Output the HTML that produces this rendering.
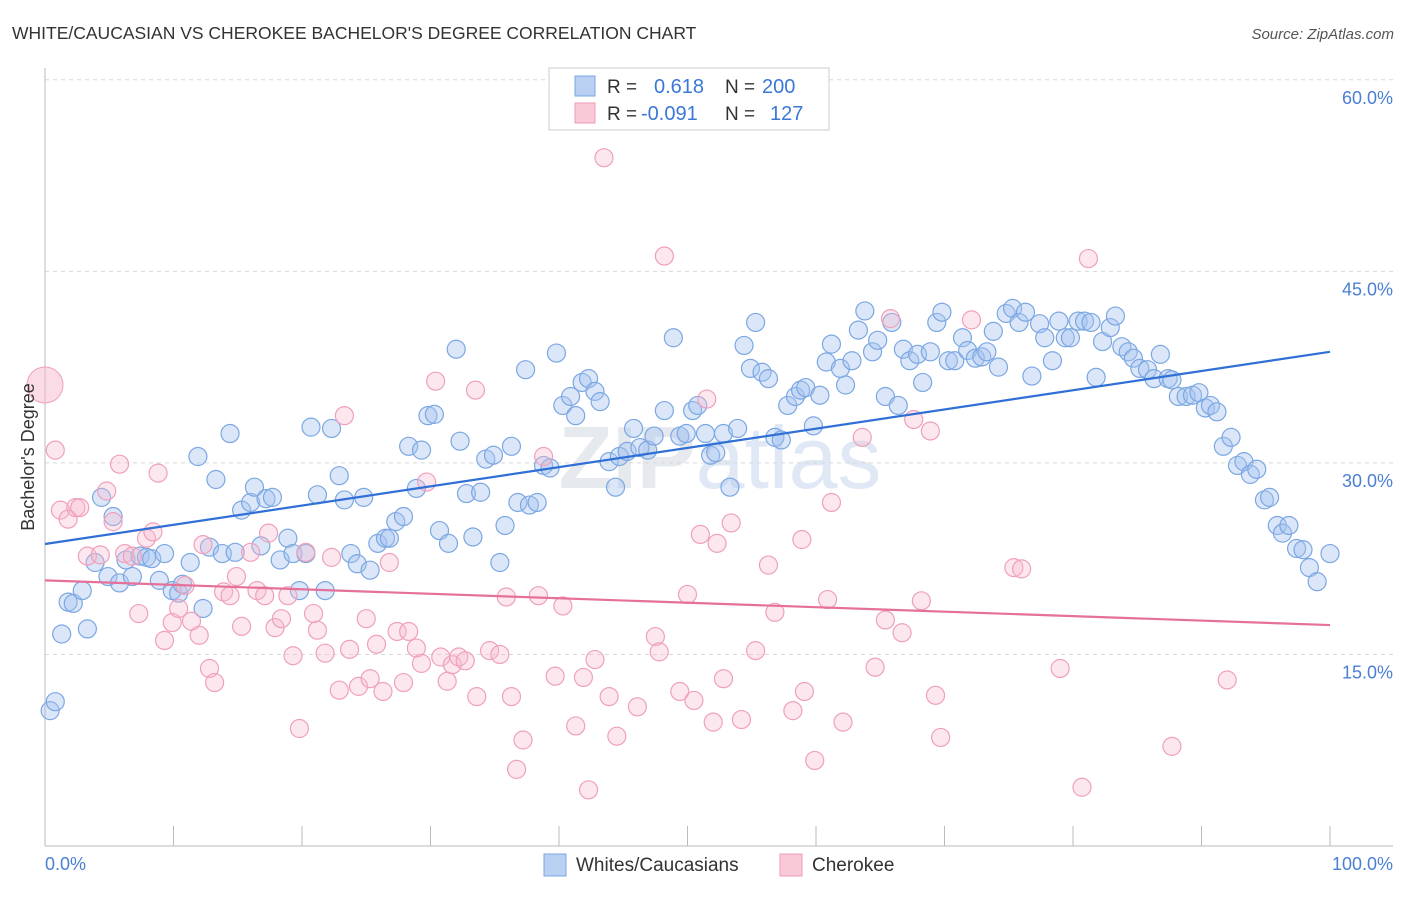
<!DOCTYPE html>
<html><head><meta charset="utf-8">
<style>
body{margin:0;background:#fff;font-family:"Liberation Sans",sans-serif;}
svg text{font-family:"Liberation Sans",sans-serif;}
</style></head>
<body>
<svg id="chart" width="1406" height="892" xmlns="http://www.w3.org/2000/svg">
<text x="12" y="39" font-size="17.5" fill="#333">WHITE/CAUCASIAN VS CHEROKEE BACHELOR'S DEGREE CORRELATION CHART</text>
<text x="1394" y="39" font-size="15" fill="#555" font-style="italic" text-anchor="end">Source: ZipAtlas.com</text>
<text x="720" y="488" font-size="88" fill="#e6e9ee" text-anchor="middle" font-weight="bold">ZIP<tspan font-weight="normal" fill="#dfe8f4">atlas</tspan></text>
<g id="grid"></g>
<g id="axes"></g>
<g id="marks"></g>
<text transform="translate(34,457) rotate(-90)" font-size="18" fill="#333" text-anchor="middle">Bachelor's Degree</text>
<text x="45" y="870" font-size="18" fill="#4a7fd4">0.0%</text>
<text x="1393" y="870" font-size="18" fill="#4a7fd4" text-anchor="end">100.0%</text>
<g>
<rect x="549" y="68" width="280" height="62" fill="#fff" stroke="#ccc"/>
<rect x="575" y="76" width="20" height="20" fill="#b9d0f3" stroke="#7aa6e0"/>
<rect x="575" y="103" width="20" height="20" fill="#f9c9d8" stroke="#ee9cb8"/>
<text x="607" y="93" font-size="19" fill="#333">R = </text><text x="654" y="93" font-size="20" fill="#3b78d6">0.618</text>
<text x="725" y="93" font-size="19" fill="#333">N = </text><text x="762" y="93" font-size="20" fill="#3b78d6">200</text>
<text x="607" y="120" font-size="19" fill="#333">R = </text><text x="641" y="120" font-size="20" fill="#3b78d6">-0.091</text>
<text x="725" y="120" font-size="19" fill="#333">N = </text><text x="770" y="120" font-size="20" fill="#3b78d6">127</text>
</g>
<g>
<rect x="544" y="854" width="22" height="22" fill="#b9d0f3" stroke="#7aa6e0"/>
<text x="576" y="871" font-size="19" fill="#333">Whites/Caucasians</text>
<rect x="780" y="854" width="22" height="22" fill="#f9c9d8" stroke="#ee9cb8"/>
<text x="812" y="871" font-size="19" fill="#333">Cherokee</text>
</g>
</svg>
<script>
const yTicks=[15,30,45,60];
const yTickLabels=["15.0%","30.0%","45.0%","60.0%"];
const xTicks=[0,10,20,30,40,50,60,70,80,90,100];
const blueX=[0.4,0.8,1.3,3.3,1.8,2.2,2.9,3.9,4.4,5.3,4.9,5.8,6.8,6.3,7.4,7.9,8.3,9.3,8.9,9.9,10.4,10.7,11.3,11.9,12.3,12.8,13.3,13.8,14.4,14.8,15.3,16.0,16.3,16.8,17.2,17.7,18.3,18.9,19.3,19.8,20.3,20.7,21.2,21.8,22.3,22.9,23.3,23.8,24.3,24.8,25.3,25.9,26.5,26.8,27.3,27.9,28.3,28.9,29.3,29.8,30.3,30.7,31.4,32.0,32.3,32.8,33.3,33.9,34.3,34.9,35.4,35.8,36.3,36.8,37.4,37.7,38.3,38.8,39.3,39.8,40.3,40.9,41.3,41.8,42.3,42.8,43.2,43.9,44.4,44.7,45.3,45.8,46.3,46.9,47.4,48.2,48.9,49.4,49.9,50.4,50.8,51.4,51.8,52.2,52.8,53.3,53.9,54.4,54.9,55.3,55.8,56.3,56.8,57.3,57.8,58.4,58.8,59.2,59.8,60.3,60.8,61.2,61.9,62.3,62.8,63.3,63.8,64.4,64.8,65.4,65.9,66.4,66.8,67.3,67.9,68.3,68.9,69.4,69.8,70.3,70.8,71.4,71.8,72.4,72.9,73.3,73.8,74.2,74.8,75.3,75.8,76.3,76.8,77.4,77.8,78.4,78.9,79.4,79.8,80.4,80.9,81.4,81.8,82.3,82.9,83.3,83.8,84.3,84.7,85.2,85.8,86.3,86.8,87.4,87.7,88.2,88.8,89.3,89.8,90.3,90.7,91.2,91.7,92.3,92.8,93.3,93.8,94.3,94.9,95.3,95.9,96.3,96.8,97.4,97.9,98.4,99.0,100];
const blueY=[10.6,11.3,16.6,17.0,19.1,19.0,20.0,22.2,27.3,25.8,21.1,20.6,21.1,22.4,22.7,22.6,22.5,22.9,20.8,20.0,19.8,20.5,22.2,30.5,18.6,23.4,28.7,22.9,32.3,23.0,26.3,26.9,28.1,23.5,27.2,27.3,22.4,24.1,22.9,20.0,22.9,32.8,27.5,20.0,32.7,29.0,27.1,22.9,22.1,27.3,21.6,23.7,24.1,24.1,25.4,25.8,31.3,28.0,31.0,33.7,33.8,24.7,23.7,38.9,31.7,27.6,24.2,27.7,30.3,30.6,22.2,25.1,31.3,26.9,37.3,26.7,26.9,29.8,29.6,38.6,34.5,35.2,33.7,36.3,36.6,35.6,34.8,30.1,28.1,30.5,30.9,32.7,31.2,31.0,32.1,34.1,39.8,32.1,32.3,34.1,34.5,32.3,30.6,30.8,32.3,28.1,32.7,39.2,37.4,41.0,37.1,36.6,32.0,31.8,34.5,35.2,35.7,35.9,32.9,35.3,37.9,39.3,37.4,36.1,38.0,40.4,41.9,38.7,39.6,35.2,41.0,34.5,38.9,38.0,38.5,36.3,38.7,41.0,41.8,38.0,38.0,39.8,38.8,38.2,38.3,38.7,40.3,37.5,41.7,42.1,41.0,41.8,36.8,40.9,39.8,38.0,41.1,39.8,39.8,41.1,41.1,41.0,36.7,39.5,40.6,41.5,39.1,38.7,38.2,37.4,37.3,36.6,38.5,36.6,36.5,35.2,35.2,35.3,35.5,34.3,34.5,34.0,31.3,32.0,29.8,30.1,29.1,29.5,27.1,27.3,25.1,24.5,25.1,23.3,23.2,21.8,20.7,22.9];
const pinkX=[0.8,1.2,1.8,2.4,2.7,3.3,4.3,4.8,5.3,5.8,6.2,6.8,7.3,7.9,8.4,8.8,9.3,9.9,10.4,10.9,11.4,12.0,12.3,12.8,13.2,13.9,14.4,14.9,15.3,16.0,16.5,17.1,17.4,17.9,18.4,18.9,19.3,19.8,20.3,20.9,21.2,21.8,22.3,22.9,23.3,23.7,24.4,25.0,25.3,25.8,26.3,26.8,27.4,27.9,28.3,28.9,29.3,29.7,30.4,30.8,31.3,31.7,32.2,32.7,33.5,33.6,34.6,35.4,35.9,36.3,36.7,37.2,38.4,38.8,39.7,40.3,41.3,41.9,42.3,42.8,43.5,43.9,44.5,46.1,47.5,47.8,48.2,49.4,50.0,50.5,51.0,51.5,52.0,52.3,52.8,53.4,54.2,55.3,56.3,56.8,58.2,58.9,59.1,59.9,60.9,61.2,62.1,63.6,64.6,65.4,65.8,66.7,67.6,68.2,68.9,69.3,69.7,72.1,75.4,76.0,79.0,80.7,81.2,87.7,92.0];
const pinkY=[31.0,26.3,25.6,26.5,26.5,22.7,22.8,27.8,25.4,29.9,22.9,22.7,18.2,24.1,24.6,29.2,16.1,17.5,18.6,20.4,17.6,16.5,23.6,13.9,12.8,19.9,19.6,21.1,17.2,23.0,20.0,19.6,24.5,17.1,17.8,19.6,14.9,9.2,23.0,18.2,16.9,15.1,22.6,12.2,33.7,15.4,12.5,17.8,13.1,15.8,12.1,22.2,16.8,12.8,16.8,15.5,14.3,28.5,36.4,14.8,12.9,14.2,14.8,14.5,35.7,11.7,15.3,15.0,19.5,11.7,6.0,8.3,19.6,30.5,13.3,18.8,9.4,13.2,4.4,14.6,53.9,11.7,8.6,10.9,16.4,15.2,46.2,12.1,19.7,11.4,24.4,35.0,9.7,23.7,13.1,25.3,9.9,15.3,22.0,18.3,10.6,24.0,12.1,6.7,19.3,26.9,9.7,32.0,14.0,17.7,41.3,16.7,33.4,19.2,32.5,11.8,8.5,41.2,21.8,21.7,13.9,4.6,46.0,7.8,13.0];
const bigPink=[0,36.1];
const blueTrend=[23.65,38.7];
const pinkTrend=[20.8,17.3];

const X0=45,X1=1330,Y0=846,YS=12.77;
function sx(v){return X0+(X1-X0)*v/100;}
function sy(v){return Y0-v*YS;}
const NS="http://www.w3.org/2000/svg";
function mk(tag,attrs,parent){const e=document.createElementNS(NS,tag);for(const k in attrs)e.setAttribute(k,attrs[k]);parent.appendChild(e);return e;}
const grid=document.getElementById('grid'),axes=document.getElementById('axes'),marks=document.getElementById('marks');
yTicks.forEach((t,i)=>{
  const l=mk('line',{x1:45,x2:1393,y1:sy(t),y2:sy(t),stroke:'#d8d8d8','stroke-dasharray':'4,4'},grid);
  
  
  const tx=mk('text',{x:1393,y:sy(t)+24,'font-size':18,fill:'#4a7fd4','text-anchor':'end'},grid);
  tx.textContent=yTickLabels[i];
  
  
});
const ax=mk('line',{x1:45,x2:1393,y1:846,y2:846,stroke:'#bbb'},axes);


const ay=mk('line',{x1:45,x2:45,y1:68,y2:846,stroke:'#bbb'},axes);


xTicks.forEach(t=>{
  const l=mk('line',{x1:sx(t),x2:sx(t),y1:826,y2:846,stroke:'#bbb'},axes);
  
  
});
blueX.forEach((x,i)=>{
  const c=mk('circle',{cx:sx(x),cy:sy(blueY[i]),r:9,fill:'rgba(165,195,240,0.4)',stroke:'#7ba7e2','stroke-width':1.2},marks);
  
  
});
pinkX.forEach((x,i)=>{
  const c=mk('circle',{cx:sx(x),cy:sy(pinkY[i]),r:9,fill:'rgba(247,185,205,0.35)',stroke:'#efa0bb','stroke-width':1.2},marks);
  
  
});
const bp=mk('circle',{cx:sx(bigPink[0]),cy:sy(bigPink[1]),r:18,fill:'rgba(247,185,205,0.5)',stroke:'#efa0bb'},marks);


const bl=mk('line',{x1:sx(0),x2:sx(100),y1:sy(blueTrend[0]),y2:sy(blueTrend[1]),stroke:'#2f6fd6','stroke-width':2.2},marks);


const pl=mk('line',{x1:sx(0),x2:sx(100),y1:sy(pinkTrend[0]),y2:sy(pinkTrend[1]),stroke:'#e5709a','stroke-width':2.2},marks);


</script>
</body></html>
